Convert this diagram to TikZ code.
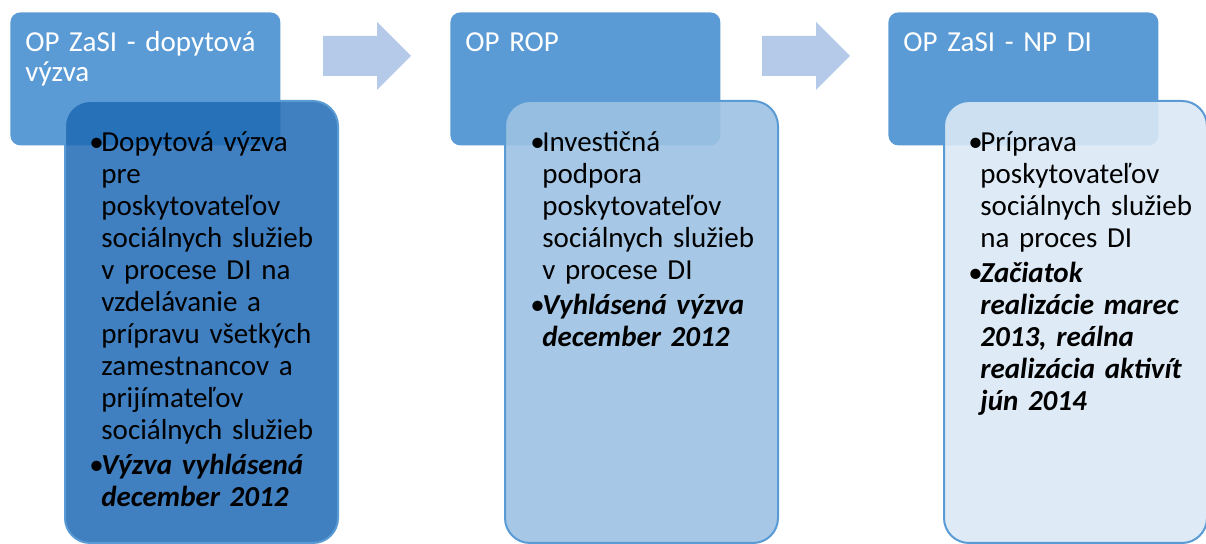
\documentclass[tikz,border=0pt]{standalone}
\usepackage{fontspec}
\setmainfont{Carlito}
\definecolor{headblue}{RGB}{91,155,213}
\definecolor{arrowblue}{RGB}{180,202,232}
\definecolor{darkfill}{RGB}{31,106,181}
\definecolor{midfill}{RGB}{156,194,227}
\definecolor{lightfill}{RGB}{218,232,245}
\newlength\bulw
\setlength\bulw{6pt}
\newcommand\bul[1]{\noindent\makebox[\bulw][l]{\textbullet}%
  \parbox[t]{\dimexpr\linewidth-\bulw}{\raggedright #1}\par\vspace{3.5pt}}

\begin{document}
\begin{tikzpicture}[x=0.5pt,y=-0.5pt,
  headbox/.style={fill=headblue, rounded corners=5pt, inner sep=0pt, anchor=north west,
    minimum width=135pt, minimum height=66.5pt},
  bodybox/.style={draw=headblue, line width=1pt, rounded corners=12.5pt, inner sep=0pt,
    anchor=north west, minimum width=136.5pt, minimum height=221pt},
  headtext/.style={anchor=base west, inner sep=0pt, text=white, text width=124pt, align=left,
    font=\fontsize{14.5}{15}\selectfont},
  bodytext/.style={anchor=base west, inner sep=0pt, text width=126pt, align=left,
    font=\fontsize{14.5}{16}\selectfont}]
\clip (0,0) rectangle (1206,544);

\def\blockarrow at (#1,#2) {
	\fill[arrowblue] (#1,#2) -- ++(54,0) -- ++(0,-14) -- ++(34,34) -- ++(-34,34) -- ++(0,-14) -- ++(-54,0) -- cycle;
}

% first step
\node[headbox] (h1) at (10,12) {};
\node[bodybox, fill=darkfill, fill opacity=.85] (b1) at (64,100) {};
\node[headtext] (h1t) at (25,52) {OP ZaSI - dopytová\\výzva};
\node[bodytext] (b1t) at (89,152) {\bul{Dopytová výzva\\pre\\poskytovateľov\\sociálnych služieb\\v procese DI na\\vzdelávanie a\\prípravu všetkých\\zamestnancov a\\prijímateľov\\sociálnych služieb}\bul{\bfseries\itshape Výzva vyhlásená\\december 2012}};

	\blockarrow at (323,36)

% second step
\node[headbox] (h2) at (450,12) {};
\node[bodybox, fill=midfill, fill opacity=.9] (b2) at (504,100) {};
\node[headtext] (h2t) at (465,52) {OP ROP};
\node[bodytext] (b2t) at (530,152) {\bul{Investičná\\podpora\\poskytovateľov\\sociálnych služieb\\v procese DI}\bul{\bfseries\itshape Vyhlásená výzva\\december 2012}};

	\blockarrow at (762,36)

% third step
\node[headbox] (h3) at (888,12) {};
\node[bodybox, fill=lightfill, fill opacity=.9, minimum width=131.5pt] (b3) at (943,100) {};
\node[headtext] (h3t) at (903,52) {OP ZaSI - NP DI};
\node[bodytext] (b3t) at (968,152) {\bul{Príprava\\poskytovateľov\\sociálnych služieb\\na proces DI}\bul{\bfseries\itshape Začiatok\\realizácie marec\\2013, reálna\\realizácia aktivít\\jún 2014}};
\end{tikzpicture}
\end{document}
